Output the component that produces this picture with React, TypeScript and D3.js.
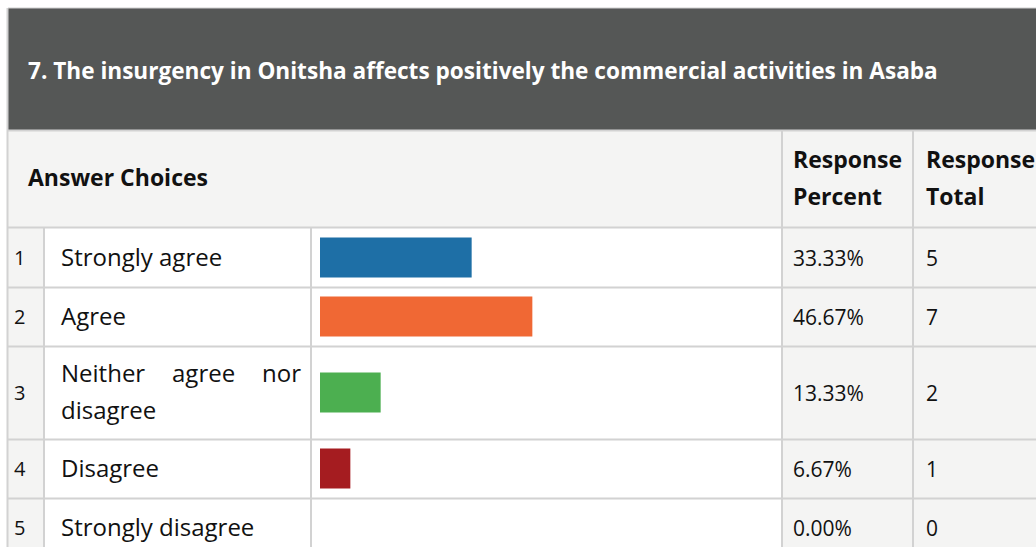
import * as d3 from "d3";
import { useEffect, useRef } from "react";

const WIDTH = 1036;
const HEIGHT = 547;
const FONT = "'Open Sans', 'Noto Sans', sans-serif";

const TITLE =
  "7. The insurgency in Onitsha affects positively the commercial activities in Asaba";
const HEAD_CHOICES = "Answer Choices";
const HEAD_PERCENT = ["Response", "Percent"];
const HEAD_TOTAL = ["Response", "Total"];

const CHOICES = [
  "Strongly agree",
  "Agree",
  "Neither agree nor disagree",
  "Disagree",
  "Strongly disagree",
];
const PERCENT = [33.33, 46.67, 13.33, 6.67, 0];
const TOTAL = [5, 7, 2, 1, 0];
const COLORS = ["#1e6fa6", "#f06834", "#4caf50", "#a51c20", "#888888"];

// column edges
const COL = { left: 8, label: 44, bar: 311, pct: 782, total: 913, right: WIDTH };
const HEADER_BOTTOM = 130;
const ROWS_TOP = 228;
const ROW_H = 59;
const LINE_H = 37;
const BAR_H = 40;
const LABEL_SIZE = 24;
const LABEL_MAX = 240;

const GRID = "#d2d2d2";
const SHADE = "#f4f4f3";

export default function App() {
  const svgRef = useRef<SVGSVGElement>(null);

  useEffect(() => {
    if (!svgRef.current) return;
    const svg = d3.select(svgRef.current);
    svg.selectAll("*").remove();

    // measure helper for wrapping the labels
    const probe = svg
      .append("text")
      .attr("font-family", FONT)
      .attr("font-size", LABEL_SIZE)
      .attr("opacity", 0);
    const measure = (s: string) => {
      probe.text(s);
      return (probe.node() as SVGTextElement).getComputedTextLength();
    };

    const wrap = (s: string) => {
      const words = s.split(" ");
      const lines: string[][] = [];
      let cur: string[] = [];
      words.forEach((w) => {
        const test = [...cur, w].join(" ");
        if (cur.length && measure(test) > LABEL_MAX) {
          lines.push(cur);
          cur = [w];
        } else cur.push(w);
      });
      if (cur.length) lines.push(cur);
      return lines;
    };

    const wrapped = CHOICES.map(wrap);
    const heights = wrapped.map((l) => ROW_H + (l.length - 1) * (LINE_H - 3));
    const tops = heights.map((_, i) => ROWS_TOP + d3.sum(heights.slice(0, i)));

    const x = d3
      .scaleLinear()
      .domain([0, 100])
      .range([0, COL.pct - COL.bar - 16]);

    // title band
    svg
      .append("rect")
      .attr("x", COL.left)
      .attr("y", 8)
      .attr("width", WIDTH - COL.left)
      .attr("height", HEADER_BOTTOM - 8)
      .attr("fill", "#555756");
    svg
      .append("text")
      .attr("x", 28)
      .attr("y", 79)
      .attr("font-family", FONT)
      .attr("font-size", 22.6)
      .attr("font-weight", "bold")
      .attr("fill", "#ffffff")
      .text(TITLE);

    // column header row
    svg
      .append("rect")
      .attr("x", COL.left)
      .attr("y", HEADER_BOTTOM + 1)
      .attr("width", WIDTH - COL.left)
      .attr("height", ROWS_TOP - HEADER_BOTTOM - 1)
      .attr("fill", SHADE);

    const headText = (tx: number, ty: number, s: string) =>
      svg
        .append("text")
        .attr("x", tx)
        .attr("y", ty)
        .attr("font-family", FONT)
        .attr("font-size", 23)
        .attr("font-weight", "bold")
        .attr("fill", "#111")
        .text(s);

    headText(28, 186, HEAD_CHOICES);
    HEAD_PERCENT.forEach((s, i) => headText(COL.pct + 11, 168 + i * LINE_H, s));
    HEAD_TOTAL.forEach((s, i) => headText(COL.total + 13, 168 + i * LINE_H, s));

    // body rows
    const rows = svg
      .append("g")
      .selectAll("g")
      .data(CHOICES)
      .join("g")
      .attr("transform", (_, i) => `translate(0,${tops[i]})`);

    rows
      .append("rect")
      .attr("x", COL.left)
      .attr("width", COL.label - COL.left)
      .attr("height", (_, i) => heights[i])
      .attr("fill", SHADE);
    rows
      .append("rect")
      .attr("x", COL.label)
      .attr("width", COL.pct - COL.label)
      .attr("height", (_, i) => heights[i])
      .attr("fill", "#ffffff");
    rows
      .append("rect")
      .attr("x", COL.pct)
      .attr("width", WIDTH - COL.pct)
      .attr("height", (_, i) => heights[i])
      .attr("fill", SHADE);

    rows
      .append("text")
      .attr("x", 14)
      .attr("y", (_, i) => heights[i] / 2 + 7)
      .attr("font-family", FONT)
      .attr("font-size", 20)
      .attr("fill", "#111")
      .text((_, i) => String(i + 1));

    // labels, justified where wrapped
    rows.each(function (_, i) {
      const g = d3.select(this);
      const lines = wrapped[i];
      const h = heights[i];
      lines.forEach((words, li) => {
        const ty = h / 2 + 8 + (li - (lines.length - 1) / 2) * LINE_H;
        const last = li === lines.length - 1;
        if (last || words.length === 1) {
          g.append("text")
            .attr("x", 61)
            .attr("y", ty)
            .attr("font-family", FONT)
            .attr("font-size", LABEL_SIZE)
            .attr("fill", "#111")
            .text(words.join(" "));
        } else {
          const ws = words.map(measure);
          const gap = (LABEL_MAX - d3.sum(ws)) / (words.length - 1);
          let cx = 61;
          words.forEach((w, wi) => {
            g.append("text")
              .attr("x", cx)
              .attr("y", ty)
              .attr("font-family", FONT)
              .attr("font-size", LABEL_SIZE)
              .attr("fill", "#111")
              .text(w);
            cx += ws[wi] + gap;
          });
        }
      });
    });

    rows
      .append("rect")
      .attr("x", COL.bar + 9)
      .attr("y", (_, i) => heights[i] / 2 - BAR_H / 2)
      .attr("width", (_, i) => x(PERCENT[i]))
      .attr("height", BAR_H)
      .attr("fill", (_, i) => COLORS[i]);

    rows
      .append("text")
      .attr("x", COL.pct + 11)
      .attr("y", (_, i) => heights[i] / 2 + 8)
      .attr("font-family", FONT)
      .attr("font-size", 21)
      .attr("fill", "#111")
      .text((_, i) => `${PERCENT[i].toFixed(2)}%`);

    rows
      .append("text")
      .attr("x", COL.total + 13)
      .attr("y", (_, i) => heights[i] / 2 + 8)
      .attr("font-family", FONT)
      .attr("font-size", 21)
      .attr("fill", "#111")
      .text((_, i) => String(TOTAL[i]));

    // grid lines
    const grid = svg.append("g").attr("stroke", GRID).attr("fill", "none");
    const hLines = [HEADER_BOTTOM, ROWS_TOP - 1, ...tops.slice(1)];
    hLines.forEach((yy) =>
      grid
        .append("line")
        .attr("x1", COL.left)
        .attr("x2", WIDTH)
        .attr("y1", yy + 0.5)
        .attr("y2", yy + 0.5)
        .attr("stroke-width", 2)
    );
    grid
      .append("line")
      .attr("x1", COL.left)
      .attr("x2", WIDTH)
      .attr("y1", 8)
      .attr("y2", 8)
      .attr("stroke", "#cfcfcf")
      .attr("stroke-width", 1);
    grid
      .append("line")
      .attr("x1", COL.left - 0.5)
      .attr("x2", COL.left - 0.5)
      .attr("y1", 8)
      .attr("y2", HEIGHT)
      .attr("stroke-width", 2);

    const bodyBottom = HEIGHT;
    [COL.label, COL.bar].forEach((xx) =>
      grid
        .append("line")
        .attr("x1", xx)
        .attr("x2", xx)
        .attr("y1", ROWS_TOP)
        .attr("y2", bodyBottom)
        .attr("stroke-width", 2)
    );
    [COL.pct, COL.total].forEach((xx) =>
      grid
        .append("line")
        .attr("x1", xx)
        .attr("x2", xx)
        .attr("y1", HEADER_BOTTOM + 1)
        .attr("y2", bodyBottom)
        .attr("stroke-width", 2)
    );

    probe.remove();
  }, []);

  return (
    <svg
      ref={svgRef}
      width={WIDTH}
      height={HEIGHT}
      style={{ position: "absolute", left: 0, top: 0, display: "block" }}
    />
  );
}
